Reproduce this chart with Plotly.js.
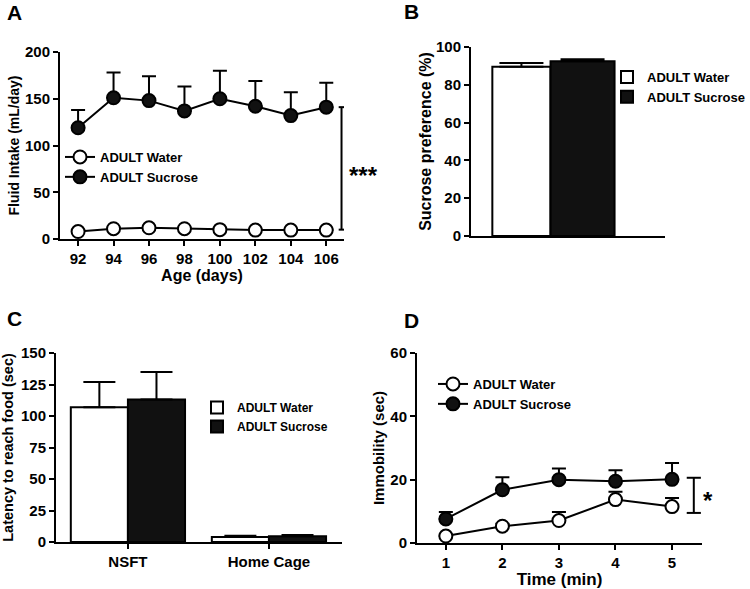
<!DOCTYPE html>
<html>
<head>
<meta charset="utf-8">
<script src="https://cdn.plot.ly/plotly-3.0.1.min.js"></script>
<style>
  html, body { margin: 0; padding: 0; background: #fff; }
  #chart { width: 750px; height: 589px; }
</style>
</head>
<body>
<div id="chart"></div>
<script>
// Panel A: fluid intake over age
var ageDays = [92, 94, 96, 98, 100, 102, 104, 106];
var intakeWater = [8, 11, 12, 11, 10, 9.5, 9.5, 9.5];
var intakeWaterErr = [1, 1, 1, 1, 1, 1, 1, 1];
var intakeSucrose = [119, 151, 148, 137, 150, 142, 132, 141];
var intakeSucroseErr = [19, 27, 26, 26, 30, 27, 25, 26];

// Panel B: sucrose preference
var prefGroups = [''];
var prefWater = [89.5];
var prefWaterErr = [2];
var prefSucrose = [92.5];
var prefSucroseErr = [1];

// Panel C: novelty suppressed feeding
var feedTests = ['NSFT', 'Home Cage'];
var latencyWater = [107, 4];
var latencyWaterErr = [20, 1];
var latencySucrose = [113, 4.5];
var latencySucroseErr = [22, 1];

// Panel D: forced swim immobility
var timeMin = [1, 2, 3, 4, 5];
var immobWater = [2.2, 5.3, 7.1, 13.7, 11.5];
var immobWaterErr = [0.5, 0.8, 2.7, 2.5, 2.7];
var immobSucrose = [7.6, 16.8, 20, 19.5, 20.1];
var immobSucroseErr = [2.2, 4, 3.5, 3.5, 5.2];

var FONT = 'Liberation Sans, Arial, sans-serif';
var W = 750, H = 589;
function px(a, b) { return [a / W, b / W]; }
function py(top, bottom) { return [1 - bottom / H, 1 - top / H]; }
function zeros(n) { var z = []; for (var i = 0; i < n; i++) z.push(0); return z; }
function bold(size) { return { family: FONT, size: size, color: '#000', weight: 'bold' }; }

function upErr(arr, width) {
  return { type: 'data', symmetric: false, array: arr, arrayminus: zeros(arr.length),
           color: '#000', thickness: 2, width: width };
}

function lineTrace(x, y, err, name, fill, xa, ya, lg) {
  return {
    x: x, y: y, type: 'scatter', mode: 'lines+markers', name: name,
    xaxis: xa, yaxis: ya, legend: lg, cliponaxis: false,
    line: { color: '#000', width: 2 },
    marker: { size: 13, color: fill, line: { color: '#000', width: 2 } },
    error_y: upErr(err, 7)
  };
}

function barTrace(x, y, err, name, fill, xa, ya, lg, capw) {
  return {
    x: x, y: y, type: 'bar', name: name, xaxis: xa, yaxis: ya, legend: lg,
    marker: { color: fill, line: { color: '#000', width: 2 } },
    error_y: upErr(err, capw)
  };
}

var prefWaterBar = barTrace(prefGroups, prefWater, prefWaterErr, 'ADULT Water', '#fff', 'x2', 'y2', 'legend2', 22);
prefWaterBar.width = 0.3;
prefWaterBar.offset = -0.3;
var prefSucroseBar = barTrace(prefGroups, prefSucrose, prefSucroseErr, 'ADULT Sucrose', '#111', 'x2', 'y2', 'legend2', 22);
prefSucroseBar.width = 0.33;
prefSucroseBar.offset = 0;

var traces = [
  lineTrace(ageDays, intakeWater, intakeWaterErr, 'ADULT Water', '#fff', 'x', 'y', 'legend'),
  lineTrace(ageDays, intakeSucrose, intakeSucroseErr, 'ADULT Sucrose', '#111', 'x', 'y', 'legend'),
  prefWaterBar,
  prefSucroseBar,
  barTrace(feedTests, latencyWater, latencyWaterErr, 'ADULT Water', '#fff', 'x3', 'y3', 'legend3', 16),
  barTrace(feedTests, latencySucrose, latencySucroseErr, 'ADULT Sucrose', '#111', 'x3', 'y3', 'legend3', 16),
  lineTrace(timeMin, immobWater, immobWaterErr, 'ADULT Water', '#fff', 'x4', 'y4', 'legend4'),
  lineTrace(timeMin, immobSucrose, immobSucroseErr, 'ADULT Sucrose', '#111', 'x4', 'y4', 'legend4')
];

function axis(extra) {
  var a = {
    showline: true, linecolor: '#000', linewidth: 2,
    ticks: 'outside', ticklen: 5, tickwidth: 2, tickcolor: '#000',
    showgrid: false, zeroline: false, tickfont: bold(15), fixedrange: true
  };
  for (var k in extra) a[k] = extra[k];
  return a;
}

function legendAt(left, top, size) {
  return {
    x: left / W, y: 1 - top / H, xanchor: 'left', yanchor: 'top',
    bgcolor: 'rgba(0,0,0,0)', borderwidth: 0, tracegroupgap: 0,
    font: bold(size)
  };
}

var layout = {
  width: W, height: H,
  margin: { l: 0, r: 0, t: 0, b: 0 },
  paper_bgcolor: '#fff', plot_bgcolor: '#fff',
  barmode: 'group',
  bargap: 0.19,
  bargroupgap: 0,
  xaxis: axis({ domain: px(60, 344), range: [90.98, 107], tickvals: ageDays, anchor: 'y',
                title: { text: 'Age (days)', font: bold(16), standoff: 0 } }),
  yaxis: axis({ domain: py(52, 239), range: [0, 200], dtick: 50, anchor: 'x',
                title: { text: 'Fluid Intake (mL/day)', font: bold(14), standoff: 2 } }),
  xaxis2: axis({ domain: px(471, 665), range: [-0.41, 0.59], type: 'category',
                 ticks: '', showticklabels: false, anchor: 'y2' }),
  yaxis2: axis({ domain: py(47, 236), range: [0, 100], dtick: 20, anchor: 'x2',
                 title: { text: 'Sucrose preference (%)', font: bold(16), standoff: 0 } }),
  xaxis3: axis({ domain: px(56, 342), range: [-0.51, 1.518], type: 'category', anchor: 'y3' }),
  yaxis3: axis({ domain: py(353, 542), range: [0, 150], dtick: 25, anchor: 'x3',
                 title: { text: 'Latency to reach food (sec)', font: bold(14.5), standoff: 4 } }),
  xaxis4: axis({ domain: px(417, 702), range: [0.49, 5.53], tickvals: timeMin, anchor: 'y4',
                 title: { text: 'Time (min)', font: bold(17), standoff: 0 } }),
  yaxis4: axis({ domain: py(353, 543), range: [0, 60], dtick: 20, anchor: 'x4',
                 title: { text: 'Immobility (sec)', font: bold(15), standoff: 2 } }),
  legend: legendAt(60, 142, 13),
  legend2: legendAt(607, 62, 13),
  legend3: legendAt(197, 393, 12),
  legend4: legendAt(433, 369, 13),
  shapes: [
    // significance brackets
    { type: 'line', xref: 'x', yref: 'y', x0: 106.86, x1: 106.86, y0: 10, y1: 141, line: { color: '#000', width: 2 } },
    { type: 'line', xref: 'x', yref: 'y', x0: 106.7, x1: 107.25, y0: 141, y1: 141, line: { color: '#000', width: 2 } },
    { type: 'line', xref: 'x', yref: 'y', x0: 106.7, x1: 107.25, y0: 10, y1: 10, line: { color: '#000', width: 2 } },
    { type: 'line', xref: 'x4', yref: 'y4', x0: 5.385, x1: 5.385, y0: 9.5, y1: 20.6, line: { color: '#000', width: 2 } },
    { type: 'line', xref: 'x4', yref: 'y4', x0: 5.26, x1: 5.51, y0: 20.6, y1: 20.6, line: { color: '#000', width: 2 } },
    { type: 'line', xref: 'x4', yref: 'y4', x0: 5.26, x1: 5.51, y0: 9.5, y1: 9.5, line: { color: '#000', width: 2 } }
  ],
  annotations: [
    { text: 'A', xref: 'paper', yref: 'paper', x: 5 / W, y: 1 - 13 / H, xanchor: 'left', yanchor: 'middle', showarrow: false, font: bold(21) },
    { text: 'B', xref: 'paper', yref: 'paper', x: 402 / W, y: 1 - 12 / H, xanchor: 'left', yanchor: 'middle', showarrow: false, font: bold(21) },
    { text: 'C', xref: 'paper', yref: 'paper', x: 5 / W, y: 1 - 318 / H, xanchor: 'left', yanchor: 'middle', showarrow: false, font: bold(21) },
    { text: 'D', xref: 'paper', yref: 'paper', x: 402 / W, y: 1 - 320 / H, xanchor: 'left', yanchor: 'middle', showarrow: false, font: bold(21) },
    { text: '***', xref: 'paper', yref: 'paper', x: 347 / W, y: 1 - 176 / H, xanchor: 'left', yanchor: 'middle', showarrow: false, font: bold(24) },
    { text: '*', xref: 'paper', yref: 'paper', x: 701 / W, y: 1 - 500 / H, xanchor: 'left', yanchor: 'middle', showarrow: false, font: bold(24) }
  ]
};

Plotly.newPlot('chart', traces, layout, { displayModeBar: false, staticPlot: true });
</script>
</body>
</html>
